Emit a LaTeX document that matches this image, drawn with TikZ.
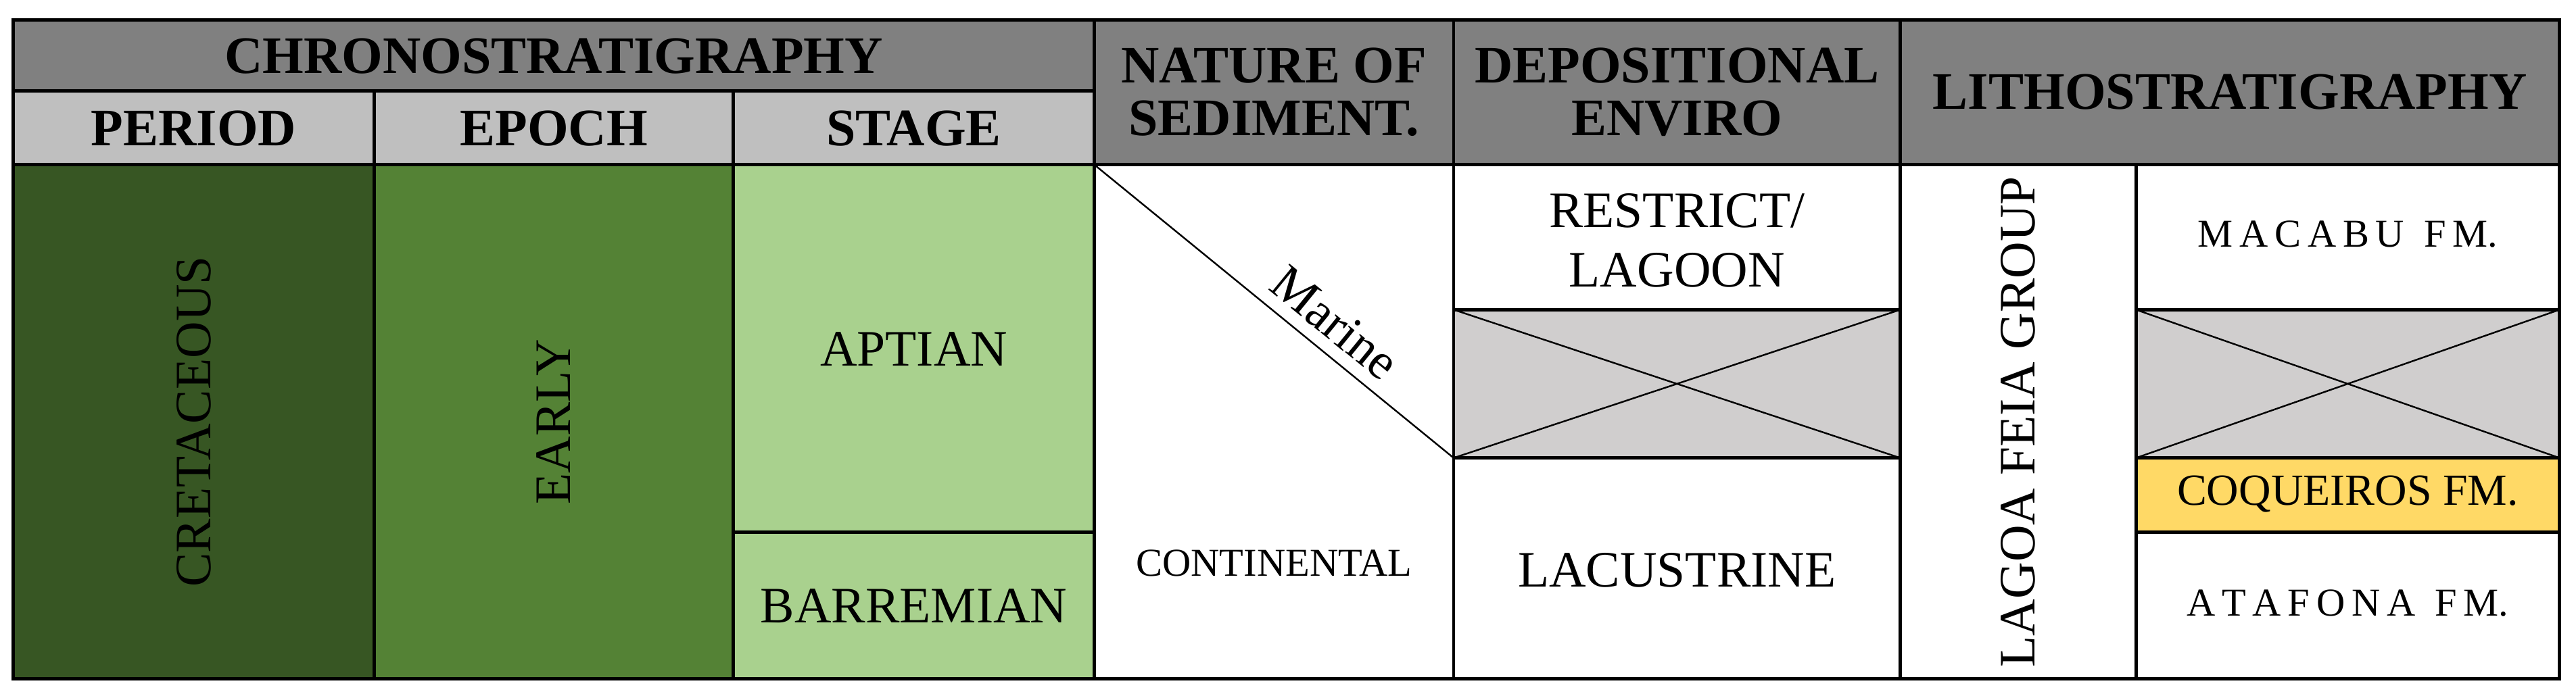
\documentclass[tikz,border=0pt]{standalone}
\usepackage{fontspec}
\setmainfont{Liberation Serif}
\definecolor{hdr}{HTML}{808080}
\definecolor{sub}{HTML}{BFBFBF}
\definecolor{cret}{HTML}{375623}
\definecolor{early}{HTML}{548235}
\definecolor{stg}{HTML}{A9D18E}
\definecolor{gry}{HTML}{D0CECE}
\definecolor{coq}{HTML}{FFD966}
\begin{document}
\begin{tikzpicture}[x=1pt,y=-1pt,
  cell/.style={draw=black,line width=2pt},
  ht/.style={font=\fontsize{32}{32}\selectfont\bfseries,align=center,inner sep=0pt},
  bt/.style={font=\fontsize{31}{36}\selectfont,align=center,inner sep=0pt},
  st/.style={font=\fontsize{24}{28}\selectfont,align=center,inner sep=0pt}]
\useasboundingbox (0,0) rectangle (1563,421);
% headers
\filldraw[cell,fill=hdr] (8,12) rectangle (664,55);
\filldraw[cell,fill=sub] (8,55) rectangle (227,100);
\filldraw[cell,fill=sub] (227,55) rectangle (445,100);
\filldraw[cell,fill=sub] (445,55) rectangle (664,100);
\filldraw[cell,fill=hdr] (664,12) rectangle (882,100);
\filldraw[cell,fill=hdr] (882,12) rectangle (1153,100);
\filldraw[cell,fill=hdr] (1153,12) rectangle (1553,100);
\node[ht] (hc) at (336,34) {CHRONOSTRATIGRAPHY};
\node[ht] (hp) at (117.5,78) {PERIOD};
\node[ht] (he) at (336,78) {EPOCH};
\node[ht] (hs) at (554.5,78) {STAGE};
\node[ht] (hn) at (773,56) {NATURE OF\\SEDIMENT.};
\node[ht] (hd) at (1017.5,56) {DEPOSITIONAL\\ENVIRO};
\node[ht] (hl) at (1353,56) {LITHOSTRATIGRAPHY};
% chrono body
\filldraw[cell,fill=cret] (8,100) rectangle (227,412);
\filldraw[cell,fill=early] (227,100) rectangle (445,412);
\filldraw[cell,fill=stg] (445,100) rectangle (664,323);
\filldraw[cell,fill=stg] (445,323) rectangle (664,412);
\node[bt,rotate=90] (cr) at (117.5,256) {CRETACEOUS};
\node[bt,rotate=90] (ea) at (336,256) {EARLY};
\node[bt] (ap) at (554.5,212) {APTIAN};
\node[bt] (ba) at (554.5,368) {BARREMIAN};
% nature
\draw[cell] (664,100) rectangle (882,412);
\coordinate (d1) at (664,100);
\coordinate (d2) at (882,278);
\draw[line width=1pt] (d1) -- (d2);
\node[bt,rotate=-39.2] (ma) at (810,196) {Marine};
\node[st] (co) at (773,342) {CONTINENTAL};
% depositional
\draw[cell] (882,100) rectangle (1153,188);
\filldraw[cell,fill=gry] (882,188) rectangle (1153,278);
\draw[line width=1pt] (882,188) -- (1153,278) (882,278) -- (1153,188);
\draw[cell] (882,278) rectangle (1153,412);
\node[bt] (rl) at (1017.5,146) {RESTRICT/\\LAGOON};
\node[bt] (la) at (1017.5,346) {LACUSTRINE};
% litho
\draw[cell] (1153,100) rectangle (1296,412);
\node[bt,rotate=90] (lf) at (1224.5,256) {LAGOA FEIA GROUP};
\draw[cell] (1296,100) rectangle (1553,188);
\filldraw[cell,fill=gry] (1296,188) rectangle (1553,278);
\draw[line width=1pt] (1296,188) -- (1553,278) (1296,278) -- (1553,188);
\filldraw[cell,fill=coq] (1296,278) rectangle (1553,323);
\draw[cell] (1296,323) rectangle (1553,412);
\node[st] (mf) at (1424.5,142) {M\,A\,C\,A\,B\,U\ \ F\,M.};
\node[st] (cq) at (1424.5,300) {\fontsize{27}{30}\selectfont COQUEIROS FM.};
\node[st] (af) at (1424.5,366) {A\,T\,A\,F\,O\,N\,A\ \ F\,M.};
\end{tikzpicture}
\end{document}
